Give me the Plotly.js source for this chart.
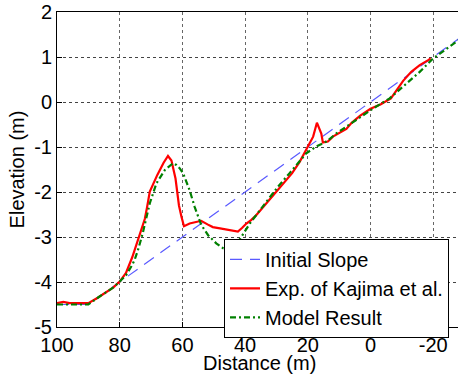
<!DOCTYPE html>
<html>
<head>
<meta charset="utf-8">
<script src="https://cdn.plot.ly/plotly-3.0.1.min.js"></script>
<style>html,body{margin:0;padding:0;overflow:hidden;background:#fff}</style>
</head>
<body>
<div id="chart" style="width:458px;height:377px"></div>
<script>
// Initial slope
const slopeX = [100, 90, -28];
const slopeY = [-4.5, -4.5, 1.4];

// Experiment of Kajima et al.
const expX = [100, 98, 96, 92, 90, 87, 84, 82, 80, 78, 76, 74, 72, 71.3, 70.4, 68, 66, 64.6, 63.5, 62.2, 61.1, 60.3, 59.5, 57.7, 56, 54, 52, 50.3, 48, 46, 44, 42.3, 41, 39.6, 38, 36.4, 33.2, 29.5, 27.9, 25, 22.6, 20, 18.3, 17.1, 15.7, 15.2, 13.6, 12, 9.8, 7.7, 6.1, 3.4, 0, -3.3, -6.5, -8.7, -10.4, -13, -15.7, -18.4, -19.2];
const expY = [-4.47, -4.44, -4.47, -4.47, -4.47, -4.35, -4.22, -4.12, -3.99, -3.8, -3.45, -3.0, -2.6, -2.35, -1.99, -1.62, -1.35, -1.2, -1.3, -1.7, -2.3, -2.55, -2.76, -2.7, -2.68, -2.64, -2.72, -2.78, -2.81, -2.84, -2.86, -2.88, -2.8, -2.7, -2.62, -2.51, -2.25, -1.94, -1.81, -1.58, -1.33, -0.99, -0.77, -0.46, -0.7, -0.9, -0.88, -0.77, -0.68, -0.6, -0.47, -0.31, -0.15, -0.05, 0.08, 0.3, 0.47, 0.67, 0.82, 0.93, 0.97];

// Model result
const modX = [100, 90, 87, 84, 82, 80, 78, 76, 75.2, 74, 72.6, 70.4, 68.3, 65.6, 63, 61.9, 60.9, 59.8, 57.7, 56.1, 54, 51.8, 49.2, 47, 45, 43.5, 41.5, 38.5, 35.3, 32.2, 29.5, 25.8, 20.5, 17.3, 14.1, 10.9, 6.6, 3.4, -0.9, -6.1, -11.5, -15.7, -20, -28];
const modY = [-4.5, -4.5, -4.35, -4.22, -4.12, -3.99, -3.85, -3.62, -3.5, -3.25, -2.9, -2.25, -1.81, -1.51, -1.36, -1.4, -1.47, -1.58, -1.96, -2.33, -2.73, -2.96, -3.14, -3.25, -3.3, -3.22, -3.03, -2.7, -2.4, -2.12, -1.88, -1.58, -1.14, -0.99, -0.88, -0.7, -0.5, -0.36, -0.14, 0.08, 0.42, 0.67, 0.97, 1.37];

const xTicks = [100, 80, 60, 40, 20, 0, -20];
const yTicks = [-5, -4, -3, -2, -1, 0, 1, 2];

const FONT = 'Liberation Sans, Arial, sans-serif';

const traces = [
  {x: slopeX, y: slopeY, mode: 'lines', name: 'Initial Slope',
   line: {color: 'rgb(90,90,255)', width: 1.2, dash: '12px,8px'}},
  {x: expX, y: expY, mode: 'lines', name: 'Exp. of Kajima et al.',
   line: {color: '#ff0000', width: 2.2}},
  {x: modX, y: modY, mode: 'lines', name: 'Model Result',
   line: {color: '#008000', width: 2.2, dash: '6px,3px,2px,3px'}}
];

const layout = {
  width: 458, height: 377,
  margin: {l: 57, r: 0, t: 12, b: 50},
  paper_bgcolor: '#fff', plot_bgcolor: '#fff',
  font: {family: FONT, size: 20, color: '#000'},
  showlegend: true,
  legend: {x: 0.4165, y: 0.28, xanchor: 'left', yanchor: 'top',
           bgcolor: '#fff', bordercolor: '#000', borderwidth: 1,
           font: {family: FONT, size: 20, color: '#000'},
           tracegroupgap: 0},
  xaxis: {range: [100, -27.9], tickvals: xTicks, ticktext: xTicks.map(String),
          showgrid: true, gridcolor: '#666', griddash: 'dot', gridwidth: 1,
          zeroline: false, showline: true, linecolor: '#000', linewidth: 1, mirror: true,
          ticks: 'inside', ticklen: 5, tickcolor: '#000',
          tickfont: {family: FONT, size: 20, color: '#000'}},
  yaxis: {range: [-5, 2], tickvals: yTicks, ticktext: yTicks.map(String),
          showgrid: true, gridcolor: '#444', griddash: 'dot', gridwidth: 1,
          zeroline: false, showline: true, linecolor: '#000', linewidth: 1,
          ticks: 'inside', ticklen: 5, tickcolor: '#000',
          tickfont: {family: FONT, size: 20, color: '#000'},
          title: {text: 'Elevation (m)', font: {family: FONT, size: 20, color: '#000'}, standoff: 4}},
  annotations: [
    {text: 'Distance (m)', xref: 'paper', yref: 'paper', x: 0.505, y: -0.114,
     xanchor: 'center', yanchor: 'middle', showarrow: false,
     font: {family: FONT, size: 20, color: '#000'}}
  ]
};

Plotly.newPlot('chart', traces, layout, {displayModeBar: false, staticPlot: true});
</script>
</body>
</html>
